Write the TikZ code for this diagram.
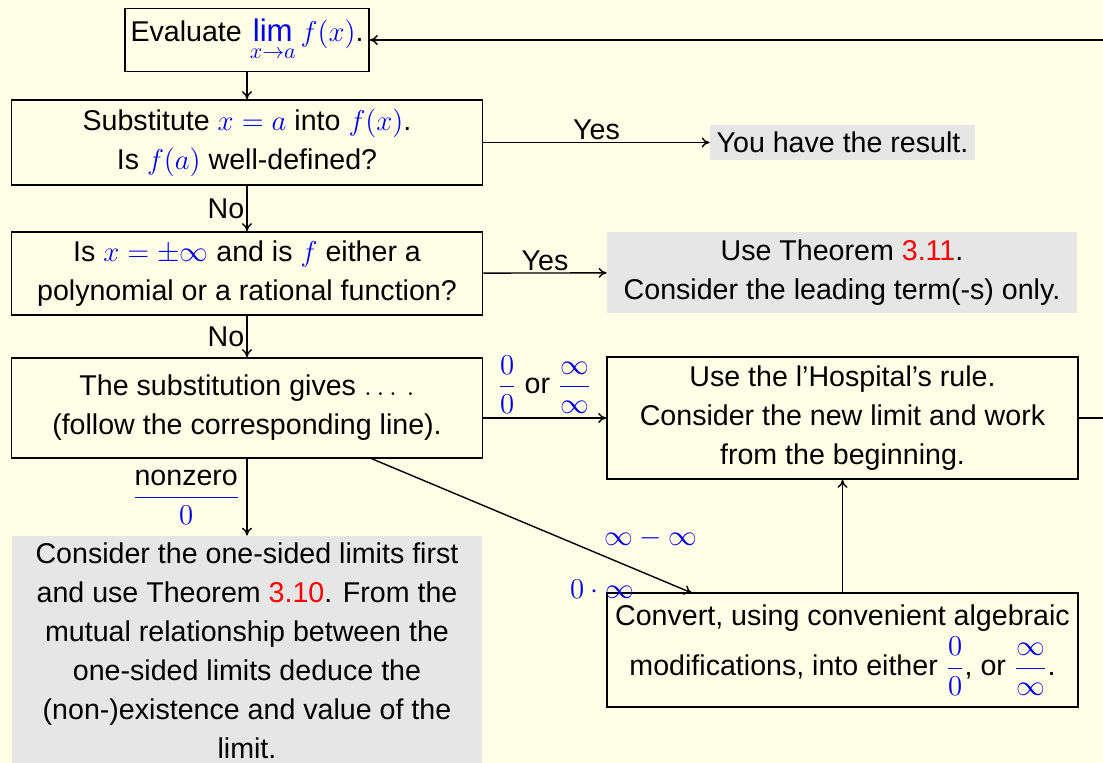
\documentclass[tikz,border=0pt]{standalone}
\usepackage{amsmath}
\usepackage{fontspec}
\setmainfont{Liberation Sans}
\DeclareMathSizes{14.3}{15.6}{11}{9}
\usetikzlibrary{arrows.meta}
\definecolor{bgyellow}{RGB}{255,255,232}
\definecolor{boxgray}{RGB}{230,230,230}
\definecolor{mblue}{RGB}{0,0,230}
\newcommand{\mb}[1]{\textcolor{mblue}{#1}}
\begin{document}
\begin{tikzpicture}[x=0.5pt,y=-0.5pt,
  every node/.style={font=\fontsize{14.3}{19.5}\selectfont, inner sep=0pt},
  box/.style={draw, line width=0.8pt, align=center},
  graybox/.style={fill=boxgray, align=center},
  conn/.style={line width=0.7pt, -{To[length=4pt,width=5pt]}},
  lbl/.style={inner sep=1pt}]
\useasboundingbox[fill=bgyellow] (0,0) rectangle (1103,763);
\node[box, minimum width=122pt, minimum height=31.5pt] (eval) at (247,40)
  {Evaluate $\mb{\lim\limits_{x\to a} f(x)}$.};
\node[box, minimum width=235.5pt, minimum height=42.5pt] (subst) at (247,142.5)
  {Substitute $\mb{x=a}$ into $\mb{f(x)}$.\\ Is $\mb{f(a)}$ well-defined?};
\node[graybox, minimum width=132.5pt, minimum height=17.5pt] (result) at (842.5,142.5)
  {You have the result.};
\node[box, minimum width=235.5pt, minimum height=41.5pt] (isx) at (247,273.5)
  {Is $\mb{x=\pm\infty}$ and is $\mb{f}$ either a\\ polynomial or a rational function?};
\node[graybox, minimum width=235pt, minimum height=40.5pt] (thm) at (842,272.5)
  {Use Theorem \textcolor{red}{3.11}.\\ Consider the leading term(-s) only.};
\node[box, minimum width=235.5pt, minimum height=50pt] (gives) at (247,408)
  {The substitution gives $\ldots\,.$\\ (follow the corresponding line).};
\node[box, minimum width=235.5pt, minimum height=61pt] (hosp) at (842.5,418)
  {Use the l'Hospital's rule.\\ Consider the new limit and work\\ from the beginning.};
\node[graybox, minimum width=235pt, minimum height=115pt] (onesided) at (247,651)
  {Consider the one-sided limits first\\ and use Theorem \textcolor{red}{3.10}. From the\\ mutual relationship between the\\ one-sided limits deduce the\\ (non-)existence and value of the\\ limit.};
\node[box, minimum width=235.5pt, minimum height=57pt] (convert) at (842.5,650)
  {Convert, using convenient algebraic\\[2pt] modifications, into either $\mb{\dfrac{0}{0}}$, or $\mb{\dfrac{\infty}{\infty}}$.};
\coordinate (diagstart) at (370,458);
\coordinate (diagend) at (692,593);
\coordinate (loopr) at (1115,418);
\coordinate (loopt) at (1115,40);
\draw[conn] (eval) -- (subst);
\draw[conn] (subst) -- node[lbl, above] {Yes} (result);
\draw[conn] (subst) -- node[lbl, left] {No} (isx);
\draw[conn] (isx) -- node[lbl, above] {Yes} (thm);
\draw[conn] (isx) -- node[lbl, left] {No} (gives);
\draw[conn] (gives.east |- hosp.west) -- node[lbl, above=1pt] {$\mb{\dfrac{0}{0}}$ or $\mb{\dfrac{\infty}{\infty}}$} (hosp.west);
\draw[conn] (gives.south) -- node[lbl, left=2pt] {\textcolor{mblue}{$\dfrac{\text{\textcolor{black}{nonzero}}}{0}$}} (onesided.north);
\draw[conn] (diagstart) -- (diagend);
\draw[conn] (convert.north) -- (hosp.south);
\draw[conn] (hosp.east) -- (loopr) -- (loopt) -- (eval.east);
\node[lbl] (minf) at (651,538) {$\mb{\infty-\infty}$};
\node[lbl] (zinf) at (602,589) {$\mb{0\cdot\infty}$};
\end{tikzpicture}
\end{document}
